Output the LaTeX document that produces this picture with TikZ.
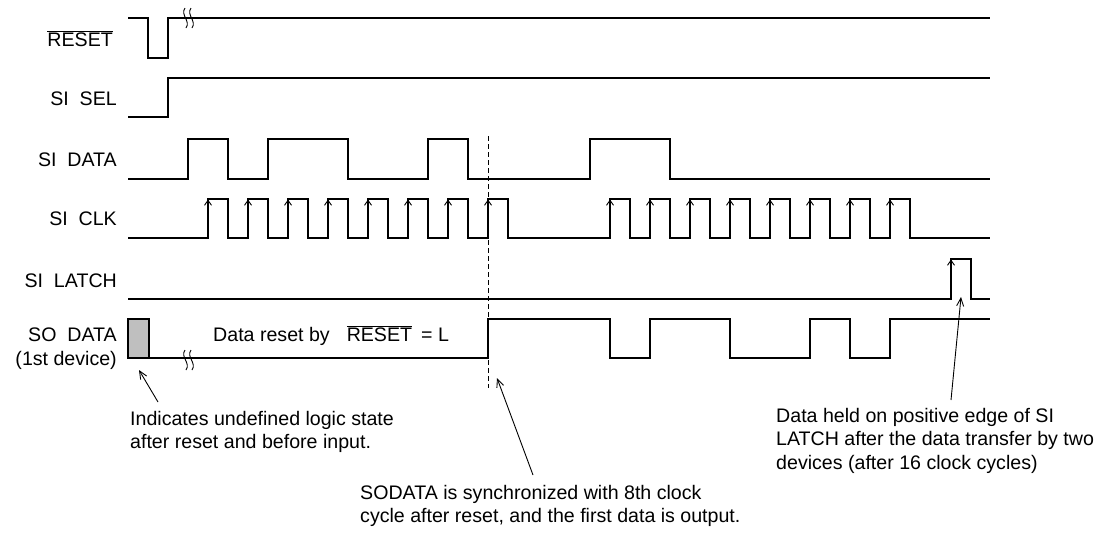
\documentclass[tikz,border=0pt]{standalone}
\usepackage{fontspec}
\setmainfont{Liberation Sans}
\usetikzlibrary{arrows.meta}
\newcommand\ovl[1]{$\overline{\mbox{#1}}$}
\begin{document}
\begin{tikzpicture}[x=1pt,y=-1pt,
  txt/.style={font=\fontsize{19.6}{23.5}\selectfont, inner sep=0pt},
  lbl/.style={txt, anchor=base east},
  note/.style={txt, anchor=north west, align=left},
  wave/.style={line width=1.8pt, line join=miter},
  edgearrow/.style={line width=0.9pt, -{Straight Barb[length=5pt,width=7pt]}},
  ann/.style={line width=0.9pt, -{Straight Barb[length=8pt,width=7pt]}},
  brk/.style={line width=0.9pt},
  guide/.style={line width=0.9pt, dash pattern=on 5pt off 3pt},
  undef/.style={line width=1.8pt, fill=black!25}
]
\useasboundingbox (0,0) rectangle (1107,536);

% signal labels
\node[lbl] (lreset) at (113,46) {\ovl{RESET}};
\node[lbl] (lsel)   at (117,105) {SI\ \ SEL};
\node[lbl] (ldata)  at (117,166) {SI\ \ DATA};
\node[lbl] (lclk)   at (117,225) {SI\ \ CLK};
\node[lbl] (llatch) at (117,287) {SI\ \ LATCH};
\node[lbl] (lso)    at (117,341) {SO\ \ DATA};
\node[lbl] (ldev)   at (117,365) {(1st device)};

% RESET
\draw[wave] (128,18) -- (148,18) -- (148,58) -- (168,58) -- (168,18) -- (990,18);
\foreach \dx in {0,6}
  \draw[brk] (185+\dx,8) .. controls (180+\dx,15) and (191+\dx,21) .. (186+\dx,28);

% SI SEL
\draw[wave] (128,117) -- (168,117) -- (168,78) -- (990,78);

% SI DATA
\draw[wave] (128,179) -- (188,179) -- (188,139) -- (228,139) -- (228,179)
  -- (268,179) -- (268,139) -- (348,139) -- (348,179) -- (428,179) -- (428,139)
  -- (468,139) -- (468,179) -- (590,179) -- (590,139) -- (670,139) -- (670,179)
  -- (990,179);

% SI CLK
\draw[wave] (128,238)
  foreach \x in {208,248,...,488} { -- (\x,238) -- (\x,199) -- (\x+20,199) -- (\x+20,238) }
  foreach \x in {610,650,...,890} { -- (\x,238) -- (\x,199) -- (\x+20,199) -- (\x+20,238) }
  -- (990,238);
\foreach \x in {208,248,...,488} \draw[edgearrow] (\x,213) -- (\x,199.5);
\foreach \x in {610,650,...,890} \draw[edgearrow] (\x,213) -- (\x,199.5);

% SI LATCH
\draw[wave] (128,299) -- (951,299) -- (951,259) -- (971,259) -- (971,299) -- (990,299);
\draw[edgearrow] (951,273) -- (951,259.5);

% SO DATA
\draw[undef] (128,319) rectangle (149,358);
\draw[wave] (149,358) -- (488,358) -- (488,319) -- (610,319) -- (610,358)
  -- (650,358) -- (650,319) -- (730,319) -- (730,358) -- (810,358) -- (810,319)
  -- (850,319) -- (850,358) -- (890,358) -- (890,319) -- (990,319);
\foreach \dx in {0,6}
  \draw[brk] (185+\dx,350) .. controls (180+\dx,357) and (191+\dx,363) .. (186+\dx,370);
\node[txt, anchor=base west] (rst) at (213,341)
  {Data reset by\hspace{17pt}\ovl{RESET}\hspace{9pt}= L};

% 8th clock guide
\coordinate (gtop) at (488,136);
\coordinate (gbot) at (488,388);
\draw[guide] (gtop) -- (gbot);

% annotations
\node[note] (n1) at (130,411) {Indicates undefined logic state\\after reset and before input.};
\node[note] (n2) at (360,485) {SODATA is synchronized with 8th clock\\cycle after reset, and the first data is output.};
\node[note] (n3) at (776,408) {Data held on positive edge of SI\\LATCH after the data transfer by two\\devices (after 16 clock cycles)};

\coordinate (t1) at (158,402); \coordinate (h1) at (139,370);
\coordinate (t2) at (533,475); \coordinate (h2) at (497,378);
\coordinate (t3) at (951,400); \coordinate (h3) at (961,297);
\draw[ann] (t1) -- (h1);
\draw[ann] (t2) -- (h2);
\draw[ann] (t3) -- (h3);
\end{tikzpicture}
\end{document}
